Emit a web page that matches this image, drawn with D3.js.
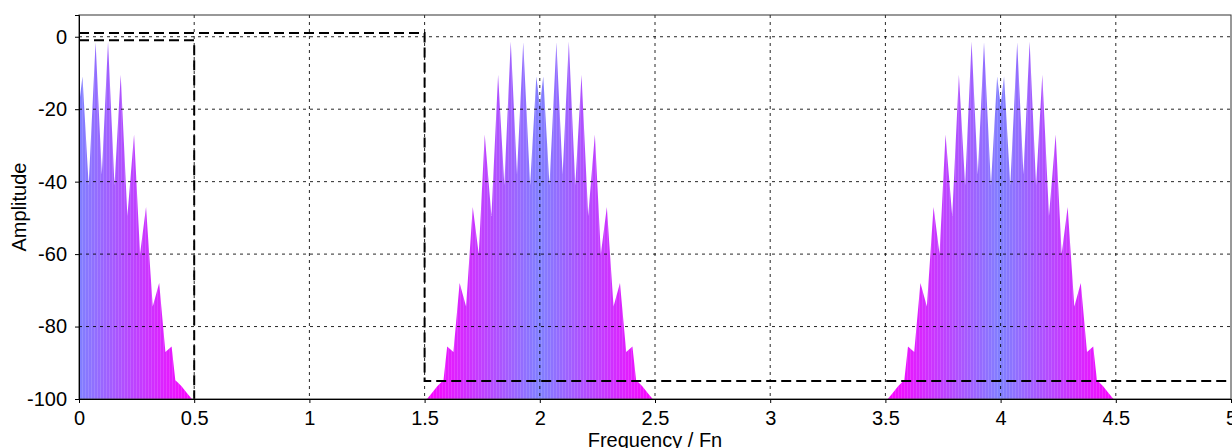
<!DOCTYPE html>
<html>
<head>
<meta charset="utf-8">
<script src="https://cdn.jsdelivr.net/npm/d3@7"></script>
<style>
  body { margin: 0; background: #fff; }
  svg { display: block; font-family: "Liberation Sans", Arial, sans-serif; }
</style>
</head>
<body>
<div id="chart"></div>
<script>
// lobe centres of the spectrum (frequency / Fn)
const lobeCenters = [0, 2, 4];
// one-sided envelope of a lobe: offset from centre and amplitude (dB)
const envOffset = [0.000, 0.015, 0.042, 0.072, 0.099, 0.126, 0.154, 0.181, 0.210, 0.239,
                   0.265, 0.291, 0.320, 0.348, 0.375, 0.402, 0.418, 0.430, 0.445, 0.470, 0.490];
const envAmp    = [-19, -11, -41, -1.5, -38, -1.3, -41, -10.5, -49.5, -27,
                   -60, -47, -74.5, -68, -87, -85.5, -94.8, -95.5, -96.5, -98.5, -100];
// dashed filter masks
const maskA = [[0, -1], [0.5, -1], [0.5, -100]];
const maskB = [[0, 1], [1.5, 1], [1.5, -95], [5, -95]];
const xTicks = [0, 0.5, 1, 1.5, 2, 2.5, 3, 3.5, 4, 4.5, 5];
const yTicks = [0, -20, -40, -60, -80, -100];

const W = 1232, H = 448;
const margin = { left: 79, right: 1, top: 15, bottom: 49 };
const innerW = W - margin.left - margin.right;
const innerH = H - margin.top - margin.bottom;

const x = d3.scaleLinear().domain([0, 5]).range([0, innerW]);
const y = d3.scaleLinear().domain([-100, 6]).range([innerH, 0]);

const svg = d3.select('#chart').append('svg')
    .attr('width', W).attr('height', H);
const defs = svg.append('defs');
defs.append('clipPath').attr('id', 'plotClip')
  .append('rect').attr('width', innerW).attr('height', innerH);

const stripes = defs.append('pattern').attr('id', 'stripes')
    .attr('patternUnits', 'userSpaceOnUse').attr('width', 3).attr('height', 10);
stripes.append('rect').attr('width', 1).attr('height', 10)
    .attr('fill', '#fff').attr('opacity', 0.13);

const g = svg.append('g').attr('transform', `translate(${margin.left},${margin.top})`);

// build lobes by mirroring the envelope around each centre
function lobePoints(c) {
  const pts = [];
  for (let i = envOffset.length - 1; i > 0; i--) pts.push([c - envOffset[i], envAmp[i]]);
  for (let i = 0; i < envOffset.length; i++) pts.push([c + envOffset[i], envAmp[i]]);
  return pts.filter(p => p[0] >= 0 && p[0] <= 5);
}

const area = d3.area()
    .x(d => x(d[0]))
    .y0(y(-100))
    .y1(d => y(d[1]));

const spec = g.append('g').attr('clip-path', 'url(#plotClip)');
lobeCenters.forEach((c, i) => {
  const grad = defs.append('linearGradient').attr('id', 'lobe' + i)
      .attr('gradientUnits', 'userSpaceOnUse')
      .attr('x1', x(c - 0.5)).attr('x2', x(c + 0.5)).attr('y1', 0).attr('y2', 0);
  grad.append('stop').attr('offset', 0).attr('stop-color', '#ff00ff');
  grad.append('stop').attr('offset', 0.5).attr('stop-color', '#8080ff');
  grad.append('stop').attr('offset', 1).attr('stop-color', '#ff00ff');
  const pts = lobePoints(c);
  spec.append('path').datum(pts).attr('d', area).attr('fill', `url(#lobe${i})`);
  spec.append('path').datum(pts).attr('d', area).attr('fill', 'url(#stripes)');
});

// grid
const grid = g.append('g').attr('stroke', '#000').attr('stroke-opacity', 0.85)
    .attr('stroke-dasharray', '3,4').attr('stroke-width', 1);
grid.selectAll('.vg').data(xTicks.slice(1, -1)).join('line')
    .attr('x1', d => x(d)).attr('x2', d => x(d)).attr('y1', 0).attr('y2', innerH);
grid.selectAll('.hg').data(yTicks.slice(0, -1)).join('line')
    .attr('x1', 0).attr('x2', innerW).attr('y1', d => y(d)).attr('y2', d => y(d));

// filter masks
const line = d3.line().x(d => x(d[0])).y(d => y(d[1]));
[maskA, maskB].forEach(m => {
  g.append('path').datum(m).attr('d', line)
    .attr('fill', 'none').attr('stroke', '#000').attr('stroke-width', 2)
    .attr('stroke-dasharray', '10,5');
});

// frame
g.append('rect').attr('width', innerW).attr('height', innerH)
    .attr('fill', 'none').attr('stroke', '#333').attr('stroke-width', 1);

// axes, plain hyphen minus like the original
const fmt = d => String(d);
const xAxis = g.append('g').attr('transform', `translate(0,${innerH})`)
    .call(d3.axisBottom(x).tickValues(xTicks).tickFormat(fmt).tickSize(4).tickPadding(8));
const yAxis = g.append('g')
    .call(d3.axisLeft(y).tickValues(yTicks).tickFormat(fmt).tickSize(4).tickPadding(8));
[xAxis, yAxis].forEach(a => {
  a.select('.domain').attr('stroke', '#000');
  a.selectAll('.tick line').attr('stroke', '#000');
  a.selectAll('text').attr('font-size', 20).attr('font-family', '"Liberation Sans", Arial, sans-serif')
    .attr('fill', '#000');
});

// titles
svg.append('text')
    .attr('x', margin.left + innerW / 2).attr('y', 447)
    .attr('text-anchor', 'middle').attr('font-size', 20).text('Frequency / Fn');
svg.append('text')
    .attr('transform', `translate(26,${margin.top + innerH / 2}) rotate(-90)`)
    .attr('text-anchor', 'middle').attr('font-size', 20).text('Amplitude');
</script>
</body>
</html>
